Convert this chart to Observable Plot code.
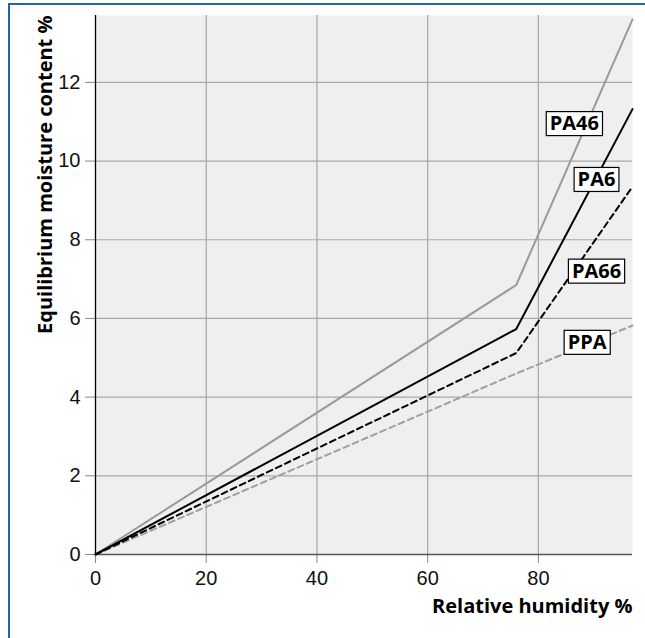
<!DOCTYPE html>
<html>
<head>
<meta charset="utf-8">
<script src="https://cdn.jsdelivr.net/npm/d3@7"></script>
<script src="https://cdn.jsdelivr.net/npm/@observablehq/plot@0.6"></script>
<style>
  html, body { margin: 0; padding: 0; background: #fff; }
  #wrap { position: relative; width: 645px; height: 638px; overflow: hidden; }
  #frame { position: absolute; left: 8px; top: 3px; right: 0; bottom: 0;
           border-top: 2px solid #1c66ac; border-left: 2px solid #1c66ac; pointer-events: none; }
  #chart { position: absolute; left: 0; top: 0; }
</style>
</head>
<body>
<div id="wrap"><div id="chart"></div><div id="frame"></div></div>
<script>
// ---- data ----
const xTicks = [0, 20, 40, 60, 80];
const yTicks = [0, 2, 4, 6, 8, 10, 12];
const humidity = [0, 76, 97];
const pa46 = [0, 6.85, 13.6];
const pa6 = [0, 5.73, 11.32];
const pa66 = [0, 5.12, 9.35];
const ppa = [0, 4.6, 5.82];
const labelNames = ["PA46", "PA6", "PA66", "PPA"];
const labelX = [86.5, 90.5, 90.5, 88.8];
const labelY = [10.95, 9.53, 7.2, 5.39];
const xTitle = "Relative humidity %";
const yTitle = "Equilibrium moisture content %";

const series = (vals) => humidity.map((h, i) => ({x: h, y: vals[i]}));
const labels = labelNames.map((n, i) => ({name: n, x: labelX[i], y: labelY[i]}));
const boldFont = "'Open Sans', 'DejaVu Sans', sans-serif";

const chart = Plot.plot({
  width: 645,
  height: 638,
  marginLeft: 95,
  marginRight: 13,
  marginTop: 15,
  marginBottom: 84,
  style: {fontFamily: "'Liberation Sans', Arial, sans-serif", fontSize: "20px", background: "transparent", overflow: "visible"},
  x: {domain: [0, 97]},
  y: {domain: [0, 13.7]},
  marks: [
    Plot.frame({fill: "#efefef", stroke: null}),
    Plot.gridX(xTicks.filter(d => d > 0), {stroke: "#a8a8a8", strokeOpacity: 1, strokeWidth: 1.2}),
    Plot.gridY(yTicks.filter(d => d > 0), {stroke: "#a8a8a8", strokeOpacity: 1, strokeWidth: 1.2}),
    Plot.axisX(xTicks, {tickSize: 9, tickPadding: 7, stroke: "#888", fill: "#111", fontSize: 20, label: null}),
    Plot.axisY(yTicks, {tickSize: 10, tickPadding: 5, stroke: "#888", fill: "#111", fontSize: 20, label: null}),
    Plot.ruleY([0], {stroke: "#555", strokeWidth: 1.3}),
    Plot.ruleX([0], {stroke: "#000", strokeWidth: 1.3}),
    Plot.line(series(ppa), {x: "x", y: "y", stroke: "#a0a0a0", strokeWidth: 2, strokeDasharray: "6,4"}),
    Plot.line(series(pa46), {x: "x", y: "y", stroke: "#9a9a9a", strokeWidth: 2}),
    Plot.line(series(pa66), {x: "x", y: "y", stroke: "#000", strokeWidth: 2, strokeDasharray: "6,4"}),
    Plot.line(series(pa6), {x: "x", y: "y", stroke: "#000", strokeWidth: 2}),
    Plot.text(labels, {x: "x", y: "y", text: "name", fontWeight: "bold", fontSize: 20, fontFamily: boldFont, fill: "#000"}),
    Plot.text([xTitle], {frameAnchor: "bottom-right", dy: 58, fontWeight: "bold", fontSize: 20, fontFamily: boldFont, textAnchor: "end", fill: "#000"}),
    Plot.text([yTitle], {frameAnchor: "top-left", dx: -58, rotate: -90, textAnchor: "end", fontWeight: "bold", fontSize: 20, fontFamily: boldFont, fill: "#000"})
  ]
});
document.getElementById("chart").appendChild(chart);

// white boxes behind the series labels
chart.querySelectorAll("text").forEach(t => {
  if (!labelNames.includes(t.textContent)) return;
  const b = t.getBBox();
  const cy = b.y + b.height / 2 + 1;
  const r = document.createElementNS("http://www.w3.org/2000/svg", "rect");
  r.setAttribute("x", b.x - 3.5);
  r.setAttribute("y", cy - 12);
  r.setAttribute("width", b.width + 7);
  r.setAttribute("height", 24);
  r.setAttribute("fill", "#fff");
  r.setAttribute("stroke", "#000");
  r.setAttribute("stroke-width", 1.2);
  const tr = t.getAttribute("transform");
  if (tr) r.setAttribute("transform", tr);
  t.parentNode.insertBefore(r, t);
});
</script>
</body>
</html>
